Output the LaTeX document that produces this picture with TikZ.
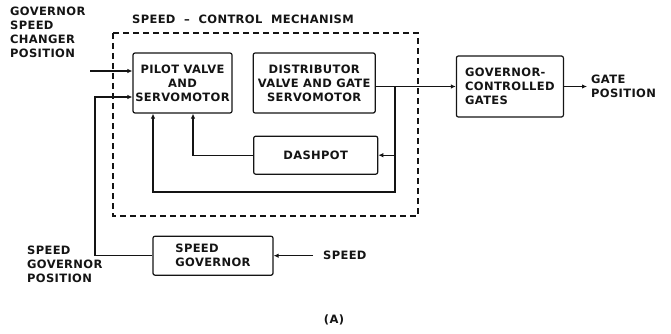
\documentclass[tikz,border=0pt]{standalone}
\usepackage{fontspec}
\usepackage{tikz}
\usetikzlibrary{
  arrows.meta,
  positioning,
  calc
}
\newfontfamily\lettering[LetterSpace=3]{DejaVu Sans}
\definecolor{ink}{RGB}{20,20,20}

\begin{document}
\begin{tikzpicture}[
  x=1pt, y=-1pt,
  font=\lettering\bfseries\fontsize{11.5}{14}\selectfont,
  text=ink,
  blockbox/.style={
    draw=ink,
    line width=1.2pt,
    rounded corners=2pt,
    align=center,
    inner sep=1pt
  },
  leftbox/.style={
    blockbox,
    align=left
  },
  lbl/.style={
    align=left,
    inner sep=0pt,
    anchor=north west
  },
  arr/.style={
    -{Latex[length=5pt,width=4.5pt]},
    draw=ink,
    line width=1.2pt
  },
  mechframe/.style={
    draw=ink,
    line width=1.2pt,
    dash pattern=on 6pt off 4pt
  }
]
\useasboundingbox (0,0) rectangle (671,334);

\node[blockbox, minimum width=99pt, minimum height=60pt] (pilot) at (182.5,83) {PILOT VALVE\\AND\\SERVOMOTOR};
\node[blockbox, minimum width=122pt, minimum height=60pt, right=20pt of pilot] (distrib) {DISTRIBUTOR\\VALVE AND GATE\\SERVOMOTOR};
\node[blockbox, minimum width=124pt, minimum height=38pt, below=22pt of distrib, xshift=1.5pt] (dashpot) {DASHPOT};
\node[leftbox, minimum width=107pt, minimum height=61pt, right=80pt of distrib, yshift=-3.5pt] (gates) {GOVERNOR-\\CONTROLLED\\GATES};
\node[leftbox, minimum width=120pt, minimum height=39pt, below=122pt of pilot, xshift=30.5pt] (sgov) {SPEED\\GOVERNOR};

% speed-control mechanism
\draw[mechframe] (113,33) rectangle (418,216);
\node[lbl, anchor=west] (mechtitle) at (132,19) {SPEED \ – \ CONTROL \ MECHANISM};

\node[lbl] (chglbl) at (10,7) {GOVERNOR\\SPEED\\CHANGER\\POSITION};
\node[lbl] (sgovlbl) at (27,246) {SPEED\\GOVERNOR\\POSITION};
\node[lbl, anchor=west] (gatelbl) at (591,86) {GATE\\POSITION};
\node[lbl, anchor=west] (spdlbl) at (323,255) {SPEED};
\node (caption) at (334,320) {(A)};

\coordinate (chgin) at (90,71);
\coordinate (fb) at (95,97);
\coordinate (tap) at (395,0);
\coordinate (lp) at (153,192);
\coordinate (dp) at (193,0);
\coordinate (gatepos) at (587,0);
\coordinate (spd) at (313,0);

\draw[arr] (chgin) -- (chgin -| pilot.west);
\draw[arr] (sgov.west) -| (fb) -- (fb -| pilot.west);
\draw[arr] (distrib.east |- gates.west) -- (gates.west);
\draw[arr] (gates.east) -- (gatepos |- gates.east);
\draw[arr] (tap |- gates.west) |- (lp) -- (lp |- pilot.south);
\draw[arr] (tap |- dashpot.east) -- (dashpot.east);
\draw[arr] (dashpot.west) -| (dp |- pilot.south);
\draw[arr] (spd |- sgov.east) -- (sgov.east);

\end{tikzpicture}
\end{document}
